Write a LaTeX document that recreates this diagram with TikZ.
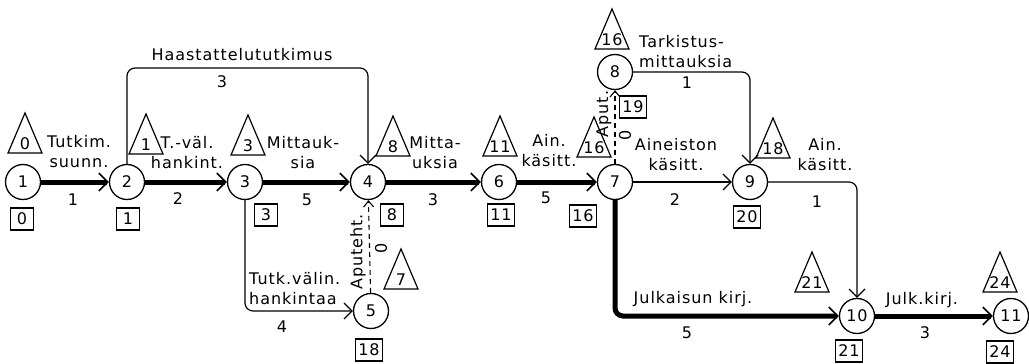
\documentclass[tikz,border=0pt]{standalone}
\usepackage{fontspec}
\setmainfont{DejaVu Sans}[LetterSpace=6]
\usetikzlibrary{arrows.meta,calc}
\newcommand\fs{\fontsize{16pt}{20pt}\selectfont}
\newcommand\tri[4]{%
  \draw[line width=1.2pt] (#1-17,#2) -- (#1,#2-40) -- (#1+17,#2) -- cycle;
  \node (#4) at (#1,#2-9) {#3};}
\begin{document}
\begin{tikzpicture}[x=1pt,y=-1pt,
  every node/.style={font=\fs, inner sep=0pt},
  ev/.style={draw, circle, minimum size=35pt, line width=1.3pt},
  lab/.style={align=center},
  box/.style={draw, line width=1.2pt, inner sep=3pt, minimum width=23pt, minimum height=22pt},
  crit/.style={line width=5pt, -{Straight Barb[length=9pt,width=18pt,line width=1.5pt]}},
  act/.style={line width=1.2pt, -{Straight Barb[length=8pt,width=16pt]}},
  dum/.style={line width=1.1pt, dash pattern=on 5pt off 4pt, -{Straight Barb[length=6pt,width=10pt]}},
]
\useasboundingbox[fill=white] (0,0) rectangle (1029,364);
% events
\node[ev] (n1) at (23,182) {1};
\node[ev] (n2) at (127,182) {2};
\node[ev] (n3) at (245,182) {3};
\node[ev] (n4) at (368,182) {4};
\node[ev] (n5) at (371,311) {5};
\node[ev] (n6) at (499,182) {6};
\node[ev] (n7) at (615,182) {7};
\node[ev] (n8) at (615,72) {8};
\node[ev] (n9) at (750,182) {9};
\node[ev] (n10) at (857,316) {10};
\node[ev] (n11) at (1011,316) {11};
\coordinate (top) at (0,68);
% triangles (earliest times)
\tri{25}{153}{0}{t1}
\tri{146}{154}{1}{t2}
\tri{248}{155}{3}{t3}
\tri{393}{156}{8}{t4}
\tri{500}{156}{11}{t6}
\tri{594}{157}{16}{t7}
\tri{612}{49}{16}{t8}
\tri{773}{158}{18}{t9}
\tri{401}{289}{7}{t5}
\tri{812}{292}{21}{t10}
\tri{1000}{292}{24}{t11}
% boxes (latest times)
\node[box] (b1) at (22,219) {0};
\node[box] (b2) at (128,219) {1};
\node[box] (b3) at (266,215) {3};
\node[box] (b4) at (392,215) {8};
\node[box] (b6) at (501,215) {11};
\node[box] (b7) at (583,216) {16};
\node[box] (b8) at (633,107) {19};
\node[box] (b9) at (747,217) {20};
\node[box] (b5) at (369,350) {18};
\node[box] (b10) at (849,351) {21};
\node[box] (b11) at (1000,352) {24};
% activities
\draw[crit] (n1) -- (n2);
\draw[crit] (n2) -- (n3);
\draw[crit] (n3) -- (n4);
\draw[crit] (n4) -- (n6);
\draw[crit] (n6) -- (n7);
\draw[act] (n7) -- (n9);
\draw[act, rounded corners=8pt] (n2.north) -- (n2.north |- top) -- (n4.north |- top) -- (n4.north);
\draw[act, rounded corners=8pt] (n3.south) -- (n3.south |- n5) -- (n5.west);
\draw[dum] (n5) -- (n4);
\draw[dum] (n7) -- (n8);
\draw[act, rounded corners=8pt] (n8.east) -- (n9.north |- n8) -- (n9.north);
\draw[act, rounded corners=8pt] (n9.east) -- (n10.north |- n9) -- (n10.north);
\draw[crit, rounded corners=8pt] (n7.south) -- (n7.south |- n10) -- (n10.west);
\draw[crit] (n10) -- (n11);
% activity labels
\node[lab] (a12) at (79,152) {Tutkim.\\suunn.};
\node[lab] (a23) at (187,153) {T.-väl.\\hankint.};
\node[lab] (a34) at (303,153) {Mittauk-\\sia};
\node[lab] (a46) at (435,153) {Mitta-\\uksia};
\node[lab] (a67) at (549,151) {Ain.\\käsitt.};
\node[lab] (a79) at (676,155) {Aineiston\\käsitt.};
\node[align=left, anchor=west] (a89) at (639,52) {Tarkistus-\\mittauksia};
\node[lab] (a910) at (825,155) {Ain.\\käsitt.};
\node (a24) at (242,55) {Haastattelututkimus};
\node[align=left, anchor=west] (a35) at (249,289) {Tutk.välin.\\hankintaa};
\node (a710) at (693,299) {Julkaisun kirj.};
\node (a1011) at (922,300) {Julk.kirj.};
\node[rotate=90] (a54) at (358,252) {Aputeht.};
\node[rotate=90] (z54) at (381,248) {0};
\node[rotate=90] (a78) at (604,114) {Aput.};
\node[rotate=90] (z78) at (625,135) {0};
% durations
\node (d12) at (73,200) {1};
\node (d23) at (178,199) {2};
\node (d34) at (307,200) {5};
\node (d46) at (433,200) {3};
\node (d67) at (546,198) {5};
\node (d79) at (675,200) {2};
\node (d89) at (687,83) {1};
\node (d910) at (817,202) {1};
\node (d24) at (222,82) {3};
\node (d35) at (282,327) {4};
\node (d710) at (687,333) {5};
\node (d1011) at (925,333) {3};
\end{tikzpicture}
\end{document}
